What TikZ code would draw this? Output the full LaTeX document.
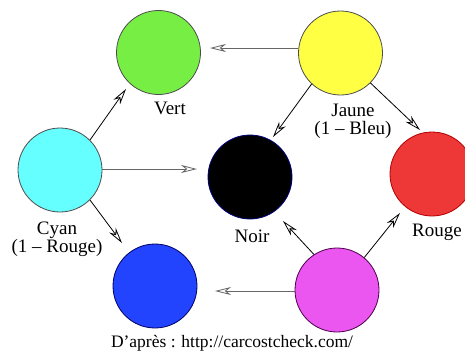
\documentclass[tikz,border=0pt]{standalone}
\usepackage{fontspec}
\setmainfont{Liberation Serif}
\usetikzlibrary{arrows.meta}
\definecolor{cvert}{RGB}{119,238,68}
\definecolor{cjaune}{RGB}{255,255,68}
\definecolor{ccyan}{RGB}{102,255,255}
\definecolor{crouge}{RGB}{238,56,56}
\definecolor{cbleu}{RGB}{34,68,255}
\definecolor{cmagenta}{RGB}{235,85,240}
\begin{document}
\begin{tikzpicture}[x=1pt,y=-1pt,
  disc/.style={circle,minimum size=84pt,inner sep=0pt,line width=0.8pt},
  lab/.style={font=\fontsize{19}{21}\selectfont,align=center,inner sep=0pt},
  arr/.style={line width=0.8pt,-{Stealth[open,length=16pt,width=8pt,inset=5pt]}},
  arrg/.style={arr,draw=gray!80!black}]
\useasboundingbox (0,0) rectangle (465,354);
\node[disc,fill=cvert,draw=black!70] (vert) at (158.5,52.5) {};
\node[disc,fill=cjaune,draw=black!70] (jaune) at (340.5,53) {};
\node[disc,fill=ccyan,draw=black!70] (cyan) at (60,170) {};
\node[disc,fill=black,draw=blue!50!black] (noir) at (250,177) {};
\node[disc,fill=crouge,draw=red!70!black] (rouge) at (432,174) {};
\node[disc,fill=cbleu,draw=blue!40!black] (bleu) at (155,286) {};
\node[disc,fill=cmagenta,draw=violet!60!black] (magenta) at (337,290) {};

\node[lab] (lvert) at (170,108) {Vert};
\node[lab] (ljaune) at (353,121) {Jaune\\[-3pt](1 – Bleu)};
\node[lab] (lcyan) at (57,239) {Cyan\\[-3pt](1 – Rouge)};
\node[lab] (lnoir) at (252,236) {Noir};
\node[lab] (lrouge) at (437,232) {Rouge};
\node[font=\fontsize{17.5}{19}\selectfont,inner sep=0pt] (src) at (232,343) {D’après : http://carcostcheck.com/};

\coordinate (t1) at (210,48);
\coordinate (t2) at (126,89);
\coordinate (t3) at (197,169);
\coordinate (t4) at (122,243);
\coordinate (t5) at (273,137);
\coordinate (t6) at (420,130);
\coordinate (t7) at (283,221);
\coordinate (t8) at (400,213);
\coordinate (t9) at (215,291);

\draw[arrg] (jaune.west |- t1) -- (t1);
\draw[arr] (cyan.45) -- (t2);
\draw[arrg] (cyan.east |- t3) -- (t3);
\draw[arr] (cyan.-45) -- (t4);
\draw[arr] (jaune.-133) -- (t5);
\draw[arr] (jaune.-45) -- (t6);
\draw[arr] (magenta.123) -- (t7);
\draw[arr] (magenta.50) -- (t8);
\draw[arrg] (magenta.west |- t9) -- (t9);
\end{tikzpicture}
\end{document}
